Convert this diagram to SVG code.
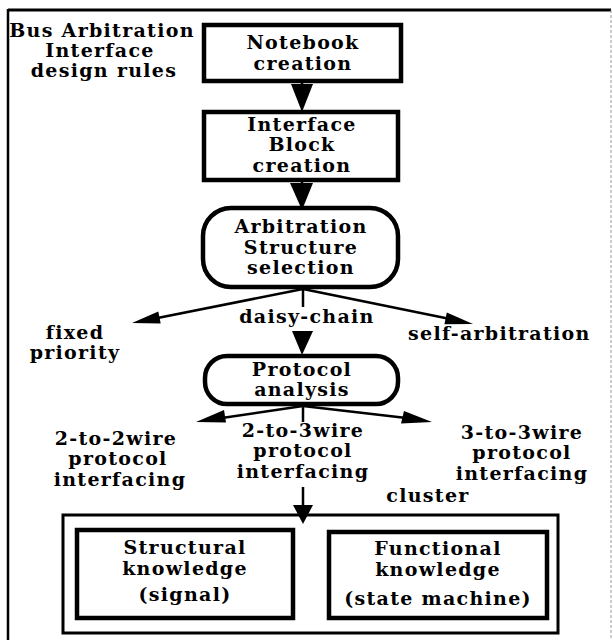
<svg xmlns="http://www.w3.org/2000/svg" width="613" height="640" viewBox="0 0 613 640">
<style>
text{font-family:"DejaVu Serif","Liberation Serif",serif;font-weight:bold;font-size:19px;letter-spacing:1.3px;fill:#000;text-anchor:middle}
.l{text-anchor:start}
.box{fill:none;stroke:#000;stroke-width:4.5}
.cl{fill:none;stroke:#000;stroke-width:3}
.ln{fill:none;stroke:#000;stroke-width:2.5}
.ah{fill:#000;stroke:none}
</style>
<rect width="613" height="640" fill="#fff"/>
<g id="frame">
<line x1="8" y1="10" x2="611" y2="10" stroke="#000" stroke-width="3"/>
<line x1="8" y1="9" x2="8" y2="640" stroke="#000" stroke-width="2.5"/>
<line x1="611" y1="10" x2="611" y2="640" stroke="#999" stroke-width="1" stroke-dasharray="3,2"/>
</g>
<g id="title">
<text x="102" y="37">Bus Arbitration</text>
<text x="100" y="57">Interface</text>
<text x="104" y="77">design rules</text>
</g>
<g id="notebook">
<rect class="box" x="204" y="25" width="197" height="56"/>
<text x="303" y="49">Notebook</text>
<text x="303" y="70">creation</text>
</g>
<g id="interface">
<rect class="box" x="204" y="112" width="194" height="68"/>
<text x="302" y="131">Interface</text>
<text x="302" y="151">Block</text>
<text x="302" y="172">creation</text>
</g>
<g id="arbitration">
<rect class="box" x="203" y="208" width="195" height="79" rx="28"/>
<text x="301" y="233">Arbitration</text>
<text x="301" y="254">Structure</text>
<text x="301" y="274">selection</text>
</g>
<g id="fixed">
<text x="75" y="339">fixed</text>
<text x="75" y="359">priority</text>
</g>
<g id="daisy">
<text x="307" y="323">daisy-chain</text>
</g>
<g id="self">
<text class="l" x="408" y="340">self-arbitration</text>
</g>
<g id="protocol">
<rect class="box" x="205" y="356" width="193" height="48" rx="22"/>
<text x="302" y="376">Protocol</text>
<text x="302" y="396">analysis</text>
</g>
<g id="p22">
<text x="116" y="445">2-to-2wire</text>
<text x="118" y="465">protocol</text>
<text x="120" y="486">interfacing</text>
</g>
<g id="p23">
<text x="303" y="437">2-to-3wire</text>
<text x="303" y="457">protocol</text>
<text x="303" y="478">interfacing</text>
</g>
<g id="p33">
<text x="522" y="439">3-to-3wire</text>
<text x="522" y="459">protocol</text>
<text x="522" y="480">interfacing</text>
</g>
<g id="cluster">
<rect class="cl" x="63" y="515" width="495" height="118"/>
<text x="428" y="502">cluster</text>
</g>
<g id="structural">
<rect class="box" x="77" y="530" width="216" height="88"/>
<text x="185" y="554">Structural</text>
<text x="185" y="575">knowledge</text>
<text x="185" y="601">(signal)</text>
</g>
<g id="functional">
<rect class="box" x="329" y="532" width="218" height="86"/>
<text x="438" y="555">Functional</text>
<text x="438" y="576">knowledge</text>
<text x="438" y="605">(state machine)</text>
</g>
<g id="connectors">
<line class="ln" x1="302" y1="81" x2="302" y2="88"/>
<polygon class="ah" points="291,84 313,84 302,112"/>
<line class="ln" x1="302" y1="180" x2="302" y2="186"/>
<polygon class="ah" points="290,183 313,183 302,210"/>
<line class="ln" x1="303" y1="289" x2="150" y2="319.5"/>
<polygon class="ah" points="132,323 160.7,323.4 158.3,311.6"/>
<line class="ln" x1="303" y1="289" x2="455" y2="320"/>
<polygon class="ah" points="473,324 444.4,324.3 446.8,312.5"/>
<line class="ln" x1="303" y1="289" x2="303" y2="307"/>
<polygon class="ah" points="292,331 313,331 302,355"/>
<line class="ln" x1="303" y1="406" x2="215" y2="419"/>
<polygon class="ah" points="196,422 226,422.5 224,410"/>
<line class="ln" x1="303" y1="406" x2="415" y2="419"/>
<polygon class="ah" points="432,422 401,423.5 404,411"/>
<line class="ln" x1="303" y1="406" x2="303" y2="422"/>
<line class="ln" x1="303" y1="487" x2="303" y2="508"/>
<polygon class="ah" points="293,505 313,505 303,524"/>
</g>
</svg>
